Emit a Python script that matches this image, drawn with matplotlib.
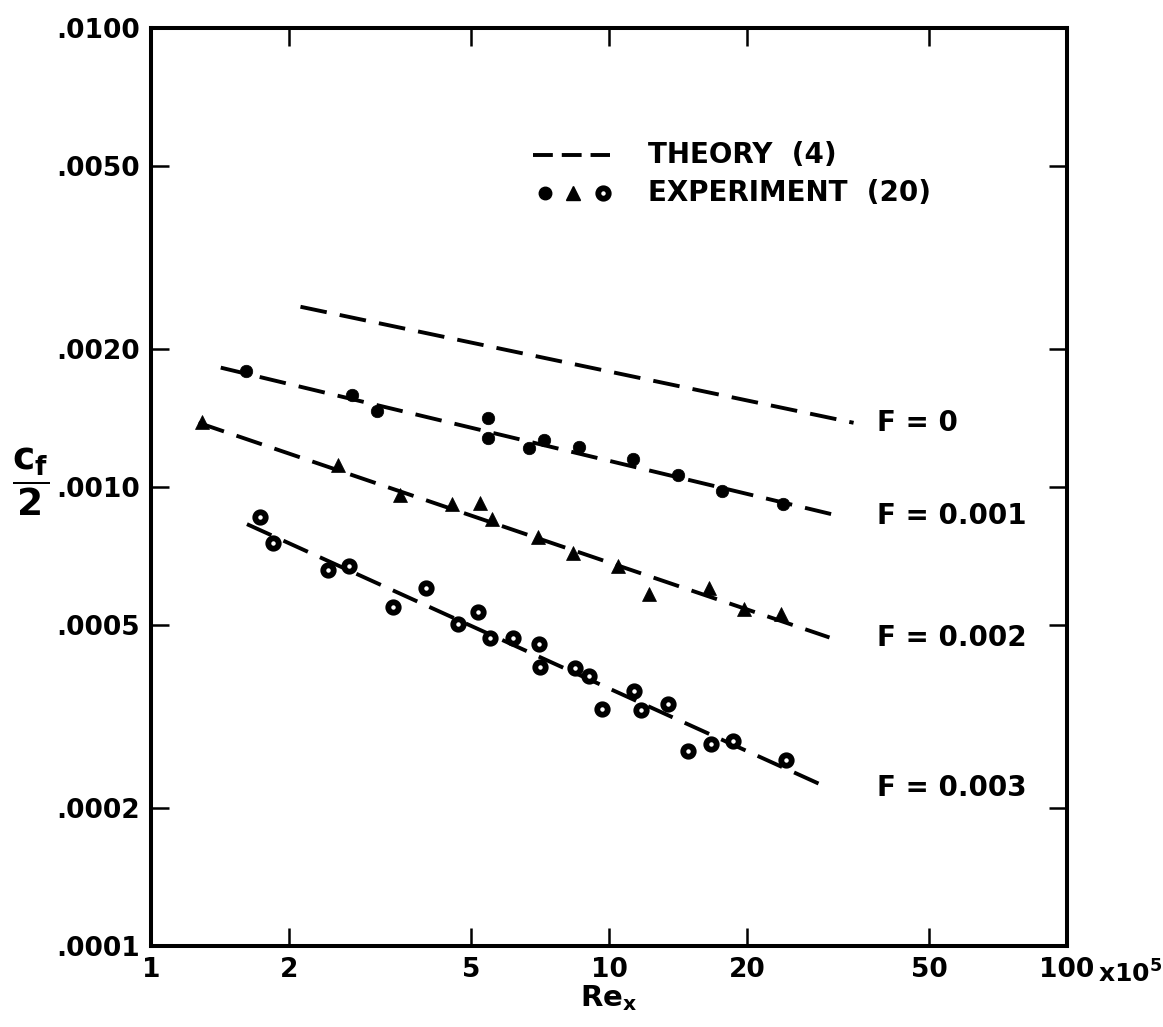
import matplotlib
matplotlib.use("Agg")
import matplotlib.pyplot as plt
from matplotlib.ticker import FixedLocator, FixedFormatter, NullLocator

plt.rcParams['font.family'] = ['DejaVu Sans']
plt.rcParams['font.weight'] = 'bold'
plt.rcParams['mathtext.default'] = 'bf'

# theory (4): straight lines on log-log, start and end points  (Re_x in 1e5, cf/2)
theory_F = ['F = 0', 'F = 0.001', 'F = 0.002', 'F = 0.003']
theory_x0 = [2.12, 1.42, 1.27, 1.62]
theory_y0 = [0.00247, 0.00182, 0.00138, 0.00083]
theory_x1 = [34.2, 31.9, 30.3, 30.1]
theory_y1 = [0.00138, 0.000864, 0.000470, 0.000221]
label_x = 38.5

# experiment (20), F = 0.001  (filled circles)
f1_x = [1.615, 2.742, 3.112, 5.437, 5.445, 6.69, 7.21, 8.60, 11.29, 14.17, 17.69, 23.94]
f1_y = [1.785e-3, 1.586e-3, 1.466e-3, 1.413e-3, 1.278e-3, 1.219e-3, 1.264e-3, 1.224e-3,
        1.151e-3, 1.060e-3, 9.81e-4, 9.19e-4]

# F = 0.002  (triangles)
f2_x = [1.293, 2.554, 3.494, 4.540, 5.226, 5.557, 7.01, 8.36, 10.44, 12.23, 16.52, 19.72, 23.76]
f2_y = [1.384e-3, 1.115e-3, 9.63e-4, 9.16e-4, 9.22e-4, 8.51e-4, 7.77e-4, 7.19e-4,
        6.72e-4, 5.85e-4, 6.03e-4, 5.41e-4, 5.29e-4]

# F = 0.003  (open circles)
f3_x = [1.733, 1.844, 2.434, 2.704, 3.381, 3.987, 4.692, 5.185, 5.489, 6.16, 7.02,
        7.07, 8.43, 9.05, 9.63, 11.35, 11.77, 13.48, 14.88, 16.69, 18.64, 24.35]
f3_y = [8.59e-4, 7.54e-4, 6.58e-4, 6.72e-4, 5.49e-4, 6.03e-4, 5.04e-4, 5.34e-4, 4.69e-4,
        4.69e-4, 4.54e-4, 4.05e-4, 4.04e-4, 3.88e-4, 3.29e-4, 3.59e-4, 3.27e-4, 3.36e-4,
        2.66e-4, 2.75e-4, 2.80e-4, 2.54e-4]

xticks = [1, 2, 5, 10, 20, 50, 100]
xticklabels = ['1', '2', '5', '10', '20', '50', '100']
yticks = [0.0001, 0.0002, 0.0005, 0.001, 0.002, 0.005, 0.01]
yticklabels = ['.0001', '.0002', '.0005', '.0010', '.0020', '.0050', '.0100']

W, H = 1163, 1027
fig = plt.figure(figsize=(W / 100, H / 100), dpi=100)
ax = fig.add_axes([151 / W, (H - 946) / H, 916 / W, 918 / H])

dash = dict(color='black', lw=2.8, dashes=(6.9, 3.4), dash_capstyle='butt')
for i in range(len(theory_F)):
    ax.plot([theory_x0[i], theory_x1[i]], [theory_y0[i], theory_y1[i]], **dash)
    ax.text(label_x, theory_y1[i], theory_F[i], fontsize=20, fontweight='bold',
            ha='left', va='center')

ax.plot(f1_x, f1_y, 'o', color='black', ms=9, mew=0.5, ls='none')
ax.plot(f2_x, f2_y, '^', color='black', ms=9.5, mew=0.5, ls='none')
ax.plot(f3_x, f3_y, 'o', mfc='white', mec='black', ms=7.5, mew=4.2, ls='none')

# legend drawn by hand
ax.plot([0.417, 0.501], [0.862, 0.862], transform=ax.transAxes, color='black',
        lw=2.8, dashes=(5.1, 2.3), dash_capstyle='butt')
ax.text(0.543, 0.862, 'THEORY  (4)', transform=ax.transAxes, fontsize=20,
        fontweight='bold', va='center', ha='left')
ax.plot([0.430], [0.820], 'o', color='black', ms=9, transform=ax.transAxes)
ax.plot([0.461], [0.820], '^', color='black', ms=9.5, transform=ax.transAxes)
ax.plot([0.493], [0.820], 'o', mfc='white', mec='black', ms=7.5, mew=4.2,
        transform=ax.transAxes)
ax.text(0.543, 0.820, 'EXPERIMENT  (20)', transform=ax.transAxes, fontsize=20,
        fontweight='bold', va='center', ha='left')

ax.set_xscale('log')
ax.set_yscale('log')
ax.set_xlim(1, 100)
ax.set_ylim(0.0001, 0.01)
ax.xaxis.set_major_locator(FixedLocator(xticks))
ax.xaxis.set_major_formatter(FixedFormatter(xticklabels))
ax.yaxis.set_major_locator(FixedLocator(yticks))
ax.yaxis.set_major_formatter(FixedFormatter(yticklabels))
ax.xaxis.set_minor_locator(NullLocator())
ax.yaxis.set_minor_locator(NullLocator())
ax.tick_params(which='major', direction='in', length=13, width=1.8,
               top=True, right=True, labelsize=19, pad=8)
for s in ax.spines.values():
    s.set_linewidth(2.9)

ax.annotate('x10$^5$', xy=(1, 0), xycoords='axes fraction', xytext=(22, -26.6),
            textcoords='offset points', ha='left', va='baseline', fontsize=18)

ax.set_xlabel('$Re_x$', fontsize=21, labelpad=0)
ax.set_ylabel(r'$\dfrac{c_f}{2}$', fontsize=27, rotation=0, va='center', ha='center')
ax.yaxis.set_label_coords(-0.132, 0.505)

fig.savefig('out.png', dpi=100)
